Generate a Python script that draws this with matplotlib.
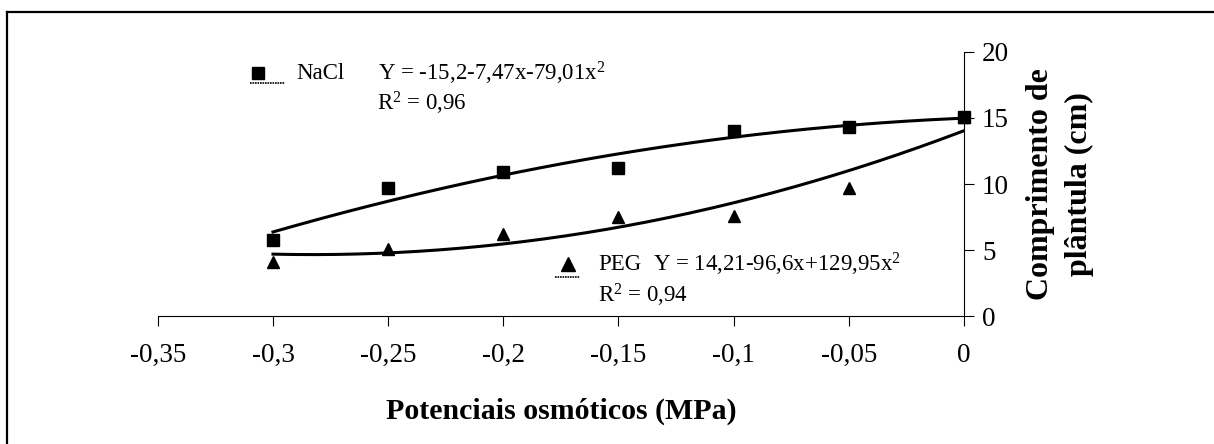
import numpy as np
import matplotlib
matplotlib.use("Agg")
import matplotlib.pyplot as plt
from matplotlib.lines import Line2D

plt.rcParams["font.family"] = ["Liberation Serif", "DejaVu Serif"]
plt.rcParams["mathtext.fontset"] = "custom"
plt.rcParams["mathtext.rm"] = "Liberation Serif"
plt.rcParams["mathtext.default"] = "regular"

# dados
potencial = [-0.30, -0.25, -0.20, -0.15, -0.10, -0.05, 0.0]
nacl = [5.8, 9.7, 10.9, 11.2, 14.0, 14.3, 15.1]
peg = [4.1, 5.1, 6.2, 7.5, 7.6, 9.7, 15.1]

x_ticks = [-0.35, -0.30, -0.25, -0.20, -0.15, -0.10, -0.05, 0.0]
x_tick_labels = ["-0,35", "-0,3", "-0,25", "-0,2", "-0,15", "-0,1", "-0,05", "0"]
y_ticks = [0, 5, 10, 15, 20]

nacl_eq = "Y = -15,2-7,47x-79,01x$^{2}$"
nacl_r2 = "R$^{2}$ = 0,96"
peg_eq = "Y = 14,21-96,6x+129,95x$^{2}$"
peg_r2 = "R$^{2}$ = 0,94"

fig = plt.figure(figsize=(12.14, 4.44), dpi=100)
ax = fig.add_axes([0.130, 0.288, 0.664, 0.595])

# linhas de tendencia (polinomio de 2o grau)
xs = np.linspace(-0.30, 0.0, 200)
nacl_fit = np.polyval(np.polyfit(potencial, nacl, 2), xs)
peg_fit = np.polyval(np.polyfit(potencial, peg, 2), xs)
ax.plot(xs, nacl_fit, color="black", lw=2.2, zorder=2)
ax.plot(xs, peg_fit, color="black", lw=2.2, zorder=2)

ax.plot(potencial, peg, "^", color="black", ms=9, zorder=3, clip_on=False)
ax.plot(potencial, nacl, "s", color="black", ms=8.5, zorder=4, clip_on=False)

ax.set_xlim(-0.35, 0.0)
ax.set_ylim(0, 20)
ax.set_xticks(x_ticks)
ax.set_xticklabels(x_tick_labels)
ax.set_yticks(y_ticks)

ax.spines["left"].set_visible(False)
ax.spines["top"].set_visible(False)
for s in ("right", "bottom"):
    ax.spines[s].set_linewidth(0.8)
ax.yaxis.tick_right()
ax.yaxis.set_label_position("right")
ax.tick_params(axis="both", direction="out", length=7, width=0.8,
               labelsize=19.5, pad=6)
ax.tick_params(axis="x", pad=12)

ax.set_xlabel("Potenciais osmóticos (MPa)", fontsize=21.5, fontweight="bold",
              labelpad=22)
ax.set_ylabel("Comprimento de\nplântula (cm)", fontsize=23, fontweight="bold",
              rotation=90, labelpad=12, linespacing=1.45)

# legendas com equacoes
ax.plot([0.124], [0.920], "s", color="black", ms=8.5, transform=ax.transAxes,
        clip_on=False)
ax.plot([0.114, 0.158], [0.883, 0.883], color="black", lw=1.2, ls=(0, (1, 0.5)),
        transform=ax.transAxes, clip_on=False)
ax.text(0.172, 0.920, "NaCl", fontsize=16.5, va="center", transform=ax.transAxes)
ax.text(0.273, 0.920, nacl_eq, fontsize=16.5, va="center", transform=ax.transAxes)
ax.text(0.272, 0.807, nacl_r2, fontsize=16.5, va="center", transform=ax.transAxes)

ax.plot([0.509], [0.197], "^", color="black", ms=10, transform=ax.transAxes,
        clip_on=False)
ax.plot([0.493, 0.524], [0.150, 0.150], color="black", lw=1.2, ls=(0, (1, 0.5)),
        transform=ax.transAxes, clip_on=False)
ax.text(0.546, 0.197, "PEG", fontsize=16.5, va="center", transform=ax.transAxes)
ax.text(0.614, 0.197, peg_eq, fontsize=16.5, va="center", transform=ax.transAxes)
ax.text(0.546, 0.080, peg_r2, fontsize=16.5, va="center", transform=ax.transAxes)

# moldura (topo e esquerda)
fig.add_artist(Line2D([0.0054, 1.0], [0.974, 0.974], color="black", lw=1.6,
                      transform=fig.transFigure))
fig.add_artist(Line2D([0.0054, 0.0054], [0.0, 0.974], color="black", lw=1.6,
                      transform=fig.transFigure))

fig.savefig("out.png", dpi=100, facecolor="white")
